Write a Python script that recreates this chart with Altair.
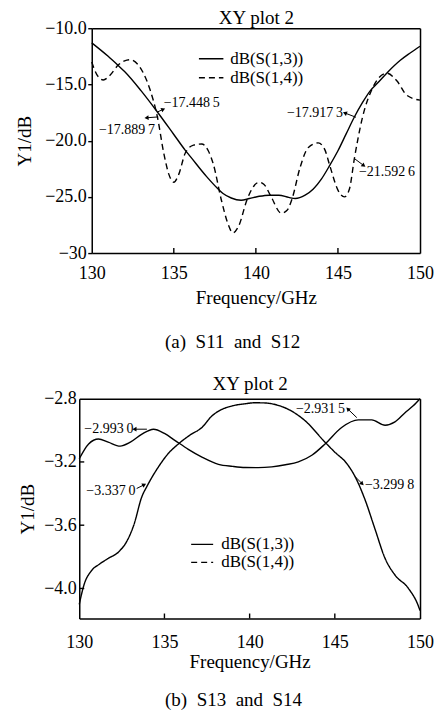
import math
import altair as alt
import pandas as pd

FONT = "Liberation Serif"
S13 = "dB(S(1,3))"
S14 = "dB(S(1,4))"

# ---------------- panel (a) data ----------------
a13_f = [130, 131, 131.6, 132, 133, 134, 135, 135.7, 136, 137, 137.7, 138, 138.5, 139.1, 139.6,
         140.2, 140.8, 141.4, 142.0, 142.4, 143.0, 143.5, 144.0, 144.5, 145.0, 145.5, 146.0, 146.5,
         147.0, 147.4, 148.0, 148.8, 149.4, 150]
a13_v = [-11.3, -12.5, -13.3, -13.85, -15.55, -17.45, -19.45, -20.86, -21.4, -23.2, -24.3, -24.7,
         -25.1, -25.3, -25.15, -24.95, -24.85, -24.85, -25.05, -25.15, -24.85, -24.3, -23.4, -22.2,
         -20.9, -19.4, -17.9, -16.6, -15.5, -14.9, -13.95, -12.85, -12.2, -11.6]

a14_f = [130, 130.3, 130.7, 131.1, 131.6, 132.0, 132.35, 132.8, 133.15, 133.56, 134.0, 134.4, 134.7,
         135.0, 135.3, 135.7, 136.2, 136.7, 137.1, 137.4, 137.9, 138.3, 138.6, 138.95, 139.45, 139.8,
         140.2, 140.5, 140.9, 141.55, 141.9, 142.2, 142.7, 143.2, 143.8, 144.2, 144.5, 145.0, 145.4,
         145.7, 146.0, 146.5, 147.15, 147.5, 147.97, 148.6, 149.2, 150]
a14_v = [-13.0, -14.1, -14.6, -14.2, -13.3, -12.9, -12.8, -13.2, -14.0, -15.5, -17.89, -21.2, -23.0,
         -23.7, -23.0, -21.1, -20.4, -20.3, -20.9, -22.05, -25.3, -27.4, -28.2, -27.6, -25.3, -24.2,
         -23.7, -23.9, -24.9, -26.45, -26.2, -25.2, -22.35, -20.6, -20.2, -20.8, -22.2, -24.4, -25.0,
         -24.3, -21.6, -17.9, -15.2, -14.4, -14.0, -14.7, -15.97, -16.4]

# annotation: label, tail (f1,v1), head (f2,v2), text anchor (tf,tv), side
a_lab = ["\u221217.448\u20095", "\u221217.889\u20097", "\u221217.917\u20093", "\u221221.592\u20096"]
a_f1 = [134.0, 134.05, 146.1, 146.0]
a_v1 = [-17.45, -17.89, -17.92, -21.59]
a_f2 = [134.32, 133.38, 145.46, 146.54]
a_v2 = [-17.24, -17.96, -17.56, -22.18]
a_tf = [134.38, 133.86, 145.31, 146.28]
a_tv = [-17.02, -19.38, -17.91, -23.11]
a_side = ["left", "right", "right", "left"]

a_yticks = [-10, -15, -20, -25, -30]
a_xticks = [130, 135, 140, 145, 150]

# ---------------- panel (b) data ----------------
b13_f = [130, 130.55, 131.13, 131.7, 132.4, 133.0, 133.68, 134.36, 135.0, 135.63, 136.4, 137.2,
         138.17, 139.0, 139.74, 140.5, 141.3, 142.1, 142.86, 143.65, 144.43, 145.4, 146.38, 147.17,
         147.95, 148.53, 149.12, 149.6, 150]
b13_v = [-3.18, -3.086, -3.055, -3.075, -3.10, -3.075, -3.024, -2.993, -3.02, -3.065, -3.12, -3.169,
         -3.215, -3.228, -3.235, -3.236, -3.231, -3.218, -3.20, -3.158, -3.086, -2.982, -2.934,
         -2.934, -2.968, -2.947, -2.889, -2.845, -2.80]

b14_f = [130, 130.3, 130.7, 131.2, 131.7, 132.3, 132.8, 133.2, 133.68, 133.97, 134.65, 135.2, 135.82,
         136.5, 137.2, 137.78, 138.37, 139.0, 139.74, 140.3, 140.9, 141.6, 142.28, 143.26, 144.43,
         145.0, 145.7, 146.19, 146.77, 147.36, 147.95, 148.53, 149.31, 149.9, 150]
b14_v = [-4.1, -3.97, -3.89, -3.845, -3.81, -3.77, -3.70, -3.60, -3.418, -3.355, -3.231, -3.15,
         -3.086, -3.03, -2.982, -2.91, -2.868, -2.845, -2.832, -2.826, -2.827, -2.84, -2.868, -2.94,
         -3.076, -3.138, -3.21, -3.293, -3.438, -3.625, -3.81, -3.915, -3.998, -4.11, -4.14]

b_lab = ["\u22122.993\u20090", "\u22123.337\u20090", "\u22122.931\u20095", "\u22123.299\u20098"]
b_f1 = [133.97, 133.37, 146.29, 146.19]
b_v1 = [-2.993, -3.368, -2.92, -3.293]
b_f2 = [133.28, 133.78, 145.79, 146.58]
b_v2 = [-2.993, -3.346, -2.868, -3.335]
b_tf = [133.18, 133.3, 145.6, 146.77]
b_tv = [-3.0165, -3.41, -2.892, -3.374]
b_side = ["right", "right", "right", "left"]

b_yticks = [-2.8, -3.2, -3.6, -4.0]
b_xticks = [130, 135, 140, 145, 150]


def ann_df(lab, f1, v1, f2, v2, tf, tv, side, pw, H, ydom):
    rows = []
    for i in range(len(lab)):
        dx = (f2[i] - f1[i]) * pw / 20.0
        dy = -(v2[i] - v1[i]) * H / (ydom[1] - ydom[0])
        ang = math.degrees(math.atan2(dx, -dy)) % 360
        rows.append({"lab": lab[i], "f1": f1[i], "v1": v1[i], "f2": f2[i], "v2": v2[i],
                     "tf": tf[i], "tv": tv[i], "side": side[i], "ang": ang})
    return pd.DataFrame(rows)


FRAME = dict(domain=True, domainColor="black", domainWidth=1.5)


def panel(f13, v13, f14, v14, ann, W, x0, H, ydom, yticks, xticks, caption, dashed, yaxis_kw,
          title_pad, leg, title_line_h, x_label_pad, x_title_pad, inward_y):
    xs = alt.Scale(domain=[130, 150], nice=False, zero=False, range=[x0, W])
    ys = alt.Scale(domain=ydom, nice=False, zero=False)
    legcommon = dict(title=None, orient="none", labelFont=FONT, labelFontSize=17,
                     labelColor="black", symbolSize=leg["size"], symbolStrokeWidth=1.4,
                     symbolStrokeColor="black", symbolOpacity=1, symbolType="stroke",
                     labelOffset=leg["off"], padding=0)
    legend1 = alt.Legend(legendX=leg["x"], legendY=leg["y1"], **legcommon)
    legend2 = alt.Legend(legendX=leg["x"], legendY=leg["y2"], symbolDash=[6, 4], **legcommon)
    xaxis = alt.Axis(values=xticks, format="d", ticks=False, tickSize=0, grid=False,
                     labelFont=FONT, labelFontSize=18, labelColor="black", labelPadding=x_label_pad,
                     labelFlush=False,
                     title=["Frequency/GHz", caption], titleFont=FONT, titleFontSize=19,
                     titleFontWeight="normal", titleColor="black", titleLineHeight=title_line_h,
                     titlePadding=x_title_pad, **FRAME)
    topaxis = alt.Axis(orient="top", labels=False, ticks=False, tickSize=0,
                       grid=False, minExtent=0, title="XY plot 2", titleFont=FONT,
                       titleFontSize=19, titleFontWeight="normal", titleColor="black",
                       titleBaseline="alphabetic", titlePadding=title_pad, **FRAME)
    yaxis = alt.Axis(values=yticks, grid=False, labelFont=FONT, labelFontSize=18,
                     labelColor="black", labelFlush=False, title="Y1/dB", titleFont=FONT,
                     titleFontSize=19, titleFontWeight="normal", titleColor="black",
                     tickColor="black", tickWidth=1.4, offset=-x0, **FRAME, **yaxis_kw)
    rightaxis = alt.Axis(orient="right", labels=False, ticks=False, tickSize=0, grid=False,
                         title=None, minExtent=0, **FRAME)

    d13 = pd.DataFrame({"f": f13, "v": v13, "s": S13})
    d14 = pd.DataFrame({"f": f14, "v": v14, "s": S14})

    l13 = alt.Chart(d13).mark_line(color="black", strokeWidth=1.4, interpolate="monotone").encode(
        x=alt.X("f:Q", scale=xs, axis=xaxis), y=alt.Y("v:Q", scale=ys, axis=yaxis))
    l14 = alt.Chart(d14).mark_line(color="black", strokeWidth=1.4, interpolate="monotone",
                                   strokeDash=[6, 4] if dashed else [1, 0]).encode(
        x=alt.X("f:Q", scale=xs, axis=None), y=alt.Y("v:Q", scale=ys, axis=None))

    ghost1 = alt.Chart(d13).mark_line(color="black", opacity=0, strokeWidth=1.4).encode(
        x=alt.X("f:Q", scale=xs, axis=topaxis), y=alt.Y("v:Q", scale=ys, axis=None),
        strokeDash=alt.StrokeDash("s:N", scale=alt.Scale(domain=[S13], range=[[1, 0]]),
                                  legend=legend1),
    )
    ghost2 = alt.Chart(d14).mark_line(opacity=0, strokeWidth=1.4).encode(
        x=alt.X("f:Q", scale=xs, axis=None), y=alt.Y("v:Q", scale=ys, axis=rightaxis),
        color=alt.Color("s:N", scale=alt.Scale(domain=[S14], range=["black"]), legend=legend2),
    )
    layers = [ghost1, ghost2, l13, l14]

    tickdf = pd.DataFrame({"t": xticks[1:-1]})
    xt = alt.Chart(tickdf).mark_rule(color="black", strokeWidth=1.4).encode(
        x=alt.X("t:Q", scale=xs, axis=None), y=alt.value(H), y2=alt.value(H - 5))
    layers.append(xt)
    if inward_y:
        ytdf = pd.DataFrame({"t": yticks[1:]})
        yt = alt.Chart(ytdf).mark_rule(color="black", strokeWidth=1.4).encode(
            y=alt.Y("t:Q", scale=ys, axis=None), x=alt.value(x0), x2=alt.value(x0 + 5))
        layers.append(yt)

    ab = alt.Chart(ann)
    shaft = ab.mark_rule(color="black", strokeWidth=1.0).encode(
        x=alt.X("f1:Q", scale=xs, axis=None), y=alt.Y("v1:Q", scale=ys, axis=None),
        x2="f2:Q", y2="v2:Q")
    head = ab.mark_point(shape="triangle", filled=True, color="black", size=22, opacity=1).encode(
        x=alt.X("f2:Q", scale=xs, axis=None), y=alt.Y("v2:Q", scale=ys, axis=None),
        angle=alt.Angle("ang:Q", scale=None))
    tl = ab.transform_filter(alt.datum.side == "left").mark_text(
        font=FONT, fontSize=14, align="left", baseline="alphabetic", color="black").encode(
        x=alt.X("tf:Q", scale=xs, axis=None), y=alt.Y("tv:Q", scale=ys, axis=None), text="lab:N")
    tr = ab.transform_filter(alt.datum.side == "right").mark_text(
        font=FONT, fontSize=14, align="right", baseline="alphabetic", color="black").encode(
        x=alt.X("tf:Q", scale=xs, axis=None), y=alt.Y("tv:Q", scale=ys, axis=None), text="lab:N")
    layers += [shaft, head, tl, tr]

    return alt.layer(*layers).resolve_axis(x="independent", y="independent").properties(
        width=W, height=H)


W = 341
XA0 = 12.5          # panel (a) plot starts 12.5 px right of panel (b)
HA, HB = 225, 220
YA = [-30, -10]
YB = [-4.19, -2.8]

NB = "\u00a0"
cap_a = "(a)" + NB * 2 + "S11" + NB * 2 + "and" + NB * 2 + "S12" + NB * 10 + "\u200b"
cap_b = "(b)" + NB * 2 + "S13" + NB * 2 + "and" + NB * 2 + "S14" + NB * 7 + "\u200b"

top = panel(a13_f, a13_v, a14_f, a14_v,
            ann_df(a_lab, a_f1, a_v1, a_f2, a_v2, a_tf, a_tv, a_side, W - XA0, HA, YA),
            W, XA0, HA, YA, a_yticks, a_xticks, cap_a, True,
            dict(format=".1f", labelExpr="datum.value == -30 ? '\u221230' : datum.label",
                 ticks=True, tickSize=4, labelPadding=1.5, titlePadding=10.2),
            5, dict(x=119, y1=17.5, y2=36.5, size=600, off=6), 45, 11.5, 5.5, False)

bottom = panel(b13_f, b13_v, b14_f, b14_v,
               ann_df(b_lab, b_f1, b_v1, b_f2, b_v2, b_tf, b_tv, b_side, W, HB, YB),
               W, 0, HB, YB, b_yticks, b_xticks, cap_b, False,
               dict(format=".1f", ticks=False, tickSize=0, labelPadding=3, titlePadding=5.8),
               8.7, dict(x=111, y1=133.8, y2=151.8, size=484, off=7), 38, 15, 1, True)

chart = alt.vconcat(alt.hconcat(top), alt.hconcat(bottom), spacing=22.7).resolve_scale(
    x="independent", y="independent", strokeDash="independent", color="independent"
).resolve_legend(strokeDash="independent", color="independent").properties(
    padding={"left": 7.3, "top": 0, "right": 0, "bottom": 0}, background="white"
).configure_view(strokeWidth=0)

chart.save("out.html", embed_options={"renderer": "svg", "actions": False})
